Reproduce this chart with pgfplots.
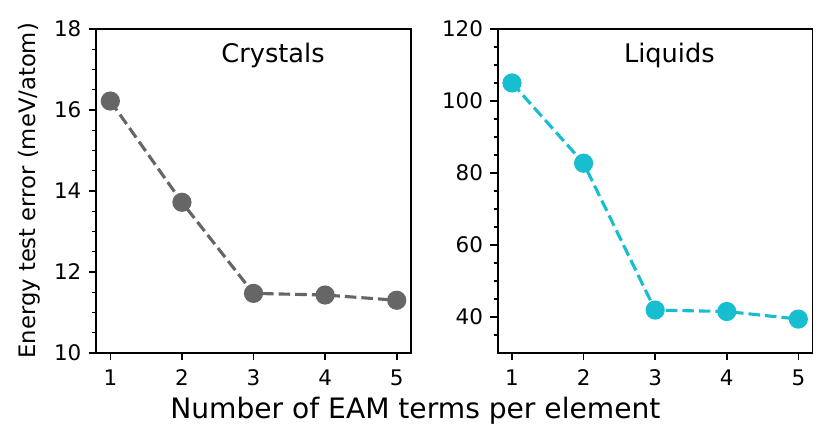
\documentclass[border=0pt]{standalone}
\usepackage{pgfplots}
\pgfplotsset{compat=1.18}
\usepackage{fontspec}
\setmainfont{DejaVu Sans}
\definecolor{cgray}{HTML}{666666}
\definecolor{ccyan}{HTML}{17BECF}
\begin{document}
\begin{tikzpicture}
\useasboundingbox (-46.1pt,-42.7pt) rectangle (352.8pt,169.4pt);
\pgfplotsset{
  every axis/.append style={
    scale only axis, width=151.2pt, height=155.5pt,
    anchor=south west,
    xmin=0.8, xmax=5.2, xtick={1,2,3,4,5},
    tick align=outside, major tick length=3.5pt, minor tick length=2pt,
    xtick pos=bottom, ytick pos=left,
    axis line style={line width=0.8pt},
    major tick style={black, line width=0.8pt},
    minor tick style={black, line width=0.6pt},
    tick label style={font=\fontsize{10.3}{12}\selectfont},
    /pgf/number format/assume math mode=true,
    xticklabel style={yshift=-1pt},
  }
}
\begin{axis}[at={(0pt,0pt)},
  ymin=10, ymax=18, ytick={10,12,14,16,18},
  minor ytick={10.5,11,11.5,12.5,13,13.5,14.5,15,15.5,16.5,17,17.5}]
\addplot[color=cgray, line width=1.5pt, dash pattern=on 5.55pt off 2.4pt,
  mark=*, mark size=3.85pt, mark options={solid, fill=cgray}]
  coordinates {(1,16.22) (2,13.72) (3,11.47) (4,11.43) (5,11.30)};
\node[anchor=base, font=\fontsize{12.3}{14}\selectfont] at (axis description cs:0.562,0.896) {Crystals};
\end{axis}
\node[rotate=90, anchor=base, font=\fontsize{10.9}{12}\selectfont] at (-28.9pt,77.8pt) {Energy test error (meV/atom)};
\begin{axis}[at={(192.8pt,0pt)},
  ymin=30, ymax=120, ytick={40,60,80,100,120},
  minor ytick={35,45,50,55,65,70,75,85,90,95,105,110,115}]
\addplot[color=ccyan, line width=1.5pt, dash pattern=on 5.55pt off 2.4pt,
  mark=*, mark size=3.85pt, mark options={solid, fill=ccyan}]
  coordinates {(1,105.0) (2,82.7) (3,41.9) (4,41.5) (5,39.4)};
\node[anchor=base, font=\fontsize{12.3}{14}\selectfont] at (axis description cs:0.545,0.896) {Liquids};
\end{axis}
\node[anchor=base, font=\fontsize{13.5}{15}\selectfont] at (153.3pt,-31.7pt) {Number of EAM terms per element};
\end{tikzpicture}
\end{document}
